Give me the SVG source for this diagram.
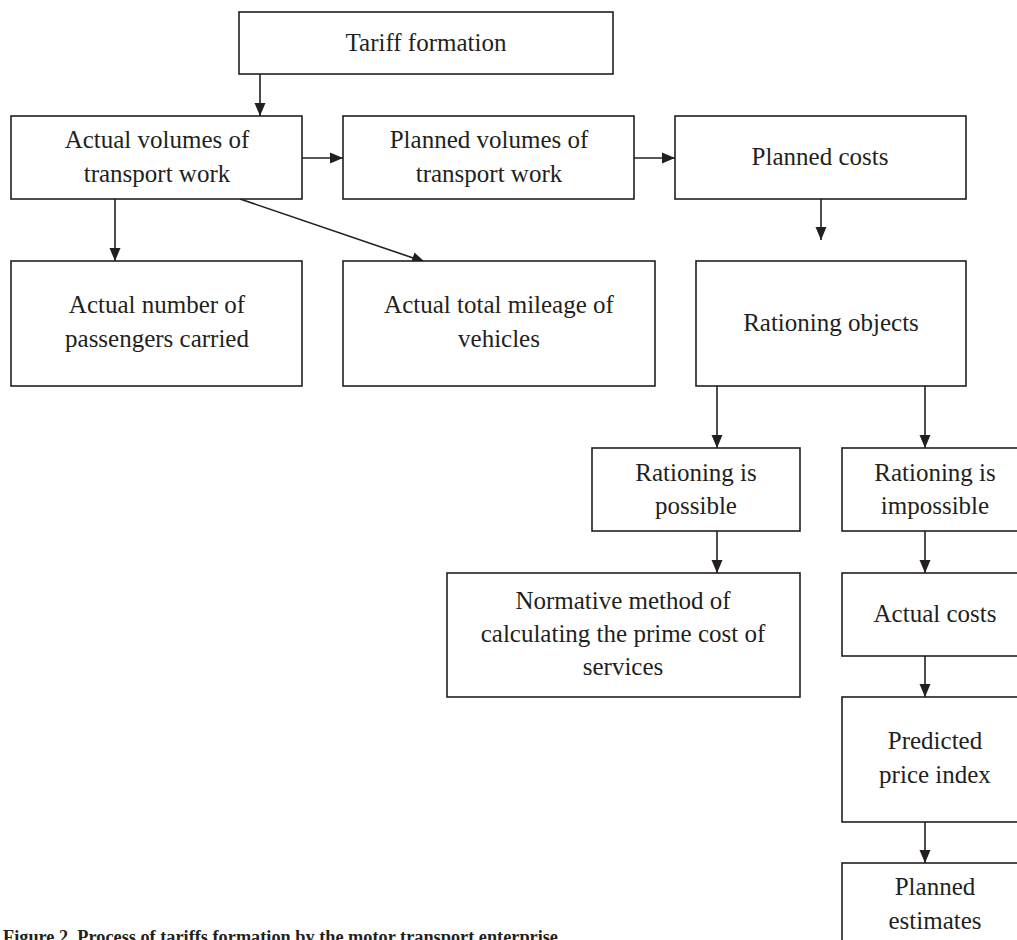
<svg xmlns="http://www.w3.org/2000/svg" width="1017" height="940" viewBox="0 0 1017 940">
<style>
.box{fill:#fff;stroke:#231f20;stroke-width:1.6}
.t{font-family:"Liberation Serif","Times New Roman",serif;font-size:25px;fill:#231f20;text-anchor:middle}
.c{stroke:#231f20;stroke-width:1.6;fill:none;marker-end:url(#ah)}
.cap{font-family:"Liberation Serif","Times New Roman",serif;font-size:18px;font-weight:bold;fill:#231f20}
</style>
<defs>
<marker id="ah" markerUnits="userSpaceOnUse" markerWidth="14" markerHeight="12" refX="13" refY="6" orient="auto">
<path d="M0,0.5 L13,6 L0,11.5 z" fill="#231f20"/>
</marker>
</defs>
<rect width="1017" height="940" fill="#fff"/>
<g id="connectors">
<line class="c" x1="260" y1="74" x2="260" y2="116"/>
<line class="c" x1="302" y1="158" x2="343" y2="158"/>
<line class="c" x1="634" y1="158" x2="675" y2="158"/>
<line class="c" x1="821" y1="199" x2="821" y2="240"/>
<line class="c" x1="115" y1="199" x2="115" y2="261"/>
<line class="c" x1="240" y1="199" x2="425" y2="262"/>
<line class="c" x1="717" y1="386" x2="717" y2="448"/>
<line class="c" x1="925" y1="386" x2="925" y2="448"/>
<line class="c" x1="717" y1="531" x2="717" y2="573"/>
<line class="c" x1="925" y1="531" x2="925" y2="573"/>
<line class="c" x1="925" y1="656" x2="925" y2="697"/>
<line class="c" x1="925" y1="822" x2="925" y2="863"/>
</g>
<g id="tariff"><rect class="box" x="239" y="12" width="374" height="62"/><text class="t" x="426" y="51">Tariff formation</text></g>
<g id="actual-volumes"><rect class="box" x="11" y="116" width="291" height="83"/><text class="t" x="157" y="148">Actual volumes of</text><text class="t" x="157" y="182">transport work</text></g>
<g id="planned-volumes"><rect class="box" x="343" y="116" width="291" height="83"/><text class="t" x="489" y="148">Planned volumes of</text><text class="t" x="489" y="182">transport work</text></g>
<g id="planned-costs"><rect class="box" x="675" y="116" width="291" height="83"/><text class="t" x="820" y="165">Planned costs</text></g>
<g id="actual-number"><rect class="box" x="11" y="261" width="291" height="125"/><text class="t" x="157" y="313">Actual number of</text><text class="t" x="157" y="347">passengers carried</text></g>
<g id="actual-mileage"><rect class="box" x="343" y="261" width="312" height="125"/><text class="t" x="499" y="313">Actual total mileage of</text><text class="t" x="499" y="347">vehicles</text></g>
<g id="rationing-objects"><rect class="box" x="696" y="261" width="270" height="125"/><text class="t" x="831" y="331">Rationing objects</text></g>
<g id="rationing-possible"><rect class="box" x="592" y="448" width="208" height="83"/><text class="t" x="696" y="481">Rationing is</text><text class="t" x="696" y="514">possible</text></g>
<g id="rationing-impossible"><rect class="box" x="842" y="448" width="186" height="83"/><text class="t" x="935" y="481">Rationing is</text><text class="t" x="935" y="514">impossible</text></g>
<g id="normative"><rect class="box" x="447" y="573" width="353" height="124"/><text class="t" x="623" y="609">Normative method of</text><text class="t" x="623" y="642">calculating the prime cost of</text><text class="t" x="623" y="675">services</text></g>
<g id="actual-costs"><rect class="box" x="842" y="573" width="186" height="83"/><text class="t" x="935" y="622">Actual costs</text></g>
<g id="predicted"><rect class="box" x="842" y="697" width="186" height="125"/><text class="t" x="935" y="749">Predicted</text><text class="t" x="935" y="783">price index</text></g>
<g id="planned-estimates"><rect class="box" x="842" y="863" width="186" height="125"/><text class="t" x="935" y="895">Planned</text><text class="t" x="935" y="929">estimates</text></g>
<text class="cap" x="3" y="943" textLength="555" lengthAdjust="spacingAndGlyphs">Figure 2. Process of tariffs formation by the motor transport enterprise</text>
</svg>
